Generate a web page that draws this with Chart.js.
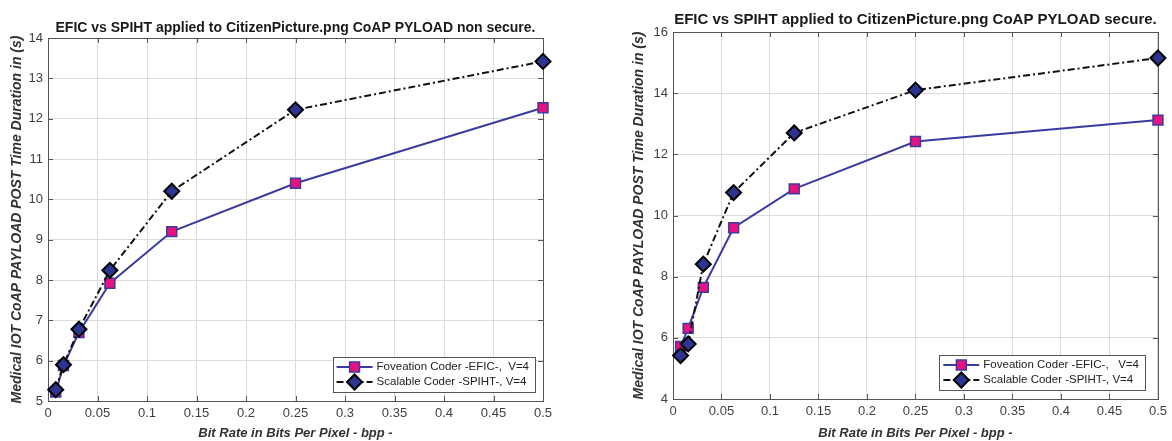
<!DOCTYPE html>
<html>
<head>
<meta charset="utf-8">
<script src="https://cdn.jsdelivr.net/npm/chart.js@4.4.1/dist/chart.umd.min.js"></script>
<style>
  html, body { margin: 0; padding: 0; background: #fff; }
  .wrap { position: relative; width: 1172px; height: 441px; }
  .left { position: absolute; left: 0; top: 0; width: 590px; height: 441px; }
  .right { position: absolute; left: 590px; top: 0; width: 582px; height: 441px; }
</style>
</head>
<body>
<div class="wrap">
  <div class="left"><canvas id="chartNonSecure"></canvas></div>
  <div class="right"><canvas id="chartSecure"></canvas></div>
</div>
<script>
// bit rates (bpp): 1/128 ... 1/2
var bitRates = [0.0078125, 0.015625, 0.03125, 0.0625, 0.125, 0.25, 0.5];

// POST time duration (s), non secure
var eficNonSecure = [5.22, 5.88, 6.7, 7.92, 9.2, 10.4, 12.27];
var spihtNonSecure = [5.28, 5.9, 6.78, 8.24, 10.2, 12.22, 13.42];

// POST time duration (s), secure
var eficSecure = [5.72, 6.31, 7.65, 9.6, 10.87, 12.42, 13.12];
var spihtSecure = [5.42, 5.8, 8.41, 10.75, 12.7, 14.1, 15.15];

var titleNonSecure = "EFIC vs SPIHT applied to CitizenPicture.png CoAP PYLOAD non secure.";
var titleSecure = "EFIC vs SPIHT applied to CitizenPicture.png CoAP PYLOAD secure.";
var xTitle = "Bit Rate in Bits Per Pixel - bpp -";
var yTitle = "Medical IOT CoAP PAYLOAD POST Time Duration in (s)";

var FONT = "'Liberation Sans', Arial, sans-serif";

function points(ys) {
  return bitRates.map(function(x, i) { return {x: x, y: ys[i]}; });
}

// box round the plot area + matlab style inner ticks
var boxPlugin = {
  id: 'box',
  beforeDatasetsDraw: function(chart) {
    var a = chart.chartArea, ctx = chart.ctx;
    ctx.save();
    ctx.strokeStyle = '#555';
    ctx.lineWidth = 1;
    chart.scales.x.ticks.forEach(function(t) {
      var px = Math.round(chart.scales.x.getPixelForValue(t.value)) + 0.5;
      ctx.beginPath();
      ctx.moveTo(px, a.bottom); ctx.lineTo(px, a.bottom - 5);
      ctx.moveTo(px, a.top); ctx.lineTo(px, a.top + 5);
      ctx.stroke();
    });
    chart.scales.y.ticks.forEach(function(t) {
      var py = Math.round(chart.scales.y.getPixelForValue(t.value)) + 0.5;
      ctx.beginPath();
      ctx.moveTo(a.left, py); ctx.lineTo(a.left + 5, py);
      ctx.moveTo(a.right, py); ctx.lineTo(a.right - 5, py);
      ctx.stroke();
    });
    ctx.strokeRect(Math.round(a.left) + 0.5, Math.round(a.top) + 0.5,
                   Math.round(a.right - a.left), Math.round(a.bottom - a.top));
    ctx.restore();
  }
};

// legend inside the plot, bottom right
var innerLegend = {
  id: 'innerLegend',
  afterDatasetsDraw: function(chart, args, opts) {
    var ctx = chart.ctx, a = chart.chartArea;
    var sets = chart.data.datasets;
    ctx.save();
    ctx.font = '11.5px ' + FONT;
    var textW = 0;
    sets.forEach(function(d) { textW = Math.max(textW, ctx.measureText(d.label).width); });
    var lineW = 36, rowH = 15;
    var w = 4 + lineW + 4 + textW + 6;
    var h = rowH * sets.length + 5;
    var x0 = a.right - opts.right - w;
    var y0 = a.bottom - opts.bottom - h;
    ctx.fillStyle = '#fff';
    ctx.fillRect(x0, y0, w, h);
    ctx.strokeStyle = '#555';
    ctx.lineWidth = 1;
    ctx.strokeRect(Math.round(x0) + 0.5, Math.round(y0) + 0.5, Math.round(w), Math.round(h));
    sets.forEach(function(d, i) {
      var cy = y0 + 2.5 + rowH * i + rowH / 2;
      var lx = x0 + 4;
      ctx.save();
      ctx.strokeStyle = d.borderColor;
      ctx.lineWidth = d.borderWidth;
      ctx.setLineDash(d.borderDash || []);
      ctx.beginPath();
      ctx.moveTo(lx, cy); ctx.lineTo(lx + lineW, cy);
      ctx.stroke();
      ctx.setLineDash([]);
      ctx.fillStyle = d.pointBackgroundColor;
      ctx.strokeStyle = d.pointBorderColor;
      ctx.lineWidth = d.pointBorderWidth;
      Chart.helpers.drawPoint(ctx, {pointStyle: d.pointStyle, radius: d.pointRadius, borderWidth: d.pointBorderWidth, rotation: 0}, lx + lineW / 2, cy);
      ctx.restore();
      ctx.fillStyle = '#222';
      ctx.textBaseline = 'middle';
      ctx.textAlign = 'left';
      ctx.fillText(d.label, lx + lineW + 4, cy);
    });
    ctx.restore();
  }
};

function makeChart(id, title, efic, spiht, cfg) {
  var ctx = document.getElementById(id).getContext('2d');
  return new Chart(ctx, {
    type: 'line',
    data: {
      datasets: [
        {
          label: cfg.eficLabel,
          data: points(efic),
          borderColor: '#3b3ba0',
          borderWidth: 2,
          pointStyle: 'rect',
          pointRadius: 7,
          pointBackgroundColor: '#e5127f',
          pointBorderColor: '#3b3ba0',
          pointBorderWidth: 1.5,
          tension: 0,
          clip: false,
          order: 1
        },
        {
          label: cfg.spihtLabel,
          data: points(spiht),
          borderColor: '#111',
          borderWidth: 2,
          borderDash: [7, 3, 2, 3],
          pointStyle: 'rectRot',
          pointRadius: 7.5,
          pointBackgroundColor: '#2e3590',
          pointBorderColor: '#000',
          pointBorderWidth: 2,
          tension: 0,
          clip: false,
          order: 0
        }
      ]
    },
    options: {
      responsive: true,
      maintainAspectRatio: false,
      animation: false,
      layout: { padding: { top: 0, right: cfg.padRight, bottom: 0, left: 0 } },
      plugins: {
        legend: { display: false },
        tooltip: { enabled: false },
        title: {
          display: true,
          text: title,
          fullSize: false,
          color: '#1a1a1a',
          font: { family: FONT, size: cfg.titleSize, weight: 'bold' },
          padding: cfg.titlePad
        },
        innerLegend: cfg.legendPos
      },
      scales: {
        x: {
          type: 'linear',
          min: 0,
          max: 0.5,
          ticks: {
            stepSize: 0.05,
            padding: 5,
            color: '#404040',
            font: { family: FONT, size: 13 },
            callback: function(v) { return String(+v.toFixed(2)); }
          },
          grid: { color: '#dedada', drawTicks: false },
          border: { display: false },
          title: {
            display: true,
            text: xTitle,
            color: '#333',
            font: { family: FONT, size: 13, weight: 'bold', style: 'italic' },
            padding: { top: 0, bottom: 0 }
          },
          afterFit: function(s) { s.height = cfg.xHeight; }
        },
        y: {
          min: cfg.yMin,
          max: cfg.yMax,
          ticks: {
            stepSize: cfg.yStep,
            padding: 5,
            color: '#404040',
            font: { family: FONT, size: 13 }
          },
          grid: { color: '#dedada', drawTicks: false },
          border: { display: false },
          title: {
            display: true,
            text: yTitle,
            color: '#333',
            font: { family: FONT, size: 14, weight: 'bold', style: 'italic' },
            padding: { top: cfg.yTitleTop, bottom: 0 }
          },
          afterFit: function(s) { s.width = cfg.yWidth; }
        }
      }
    },
    plugins: [boxPlugin, innerLegend]
  });
}

makeChart('chartNonSecure', titleNonSecure, eficNonSecure, spihtNonSecure, {
  eficLabel: "Foveation Coder -EFIC-,  V=4",
  spihtLabel: "Scalable Coder -SPIHT-, V=4",
  yMin: 5, yMax: 14, yStep: 1,
  yWidth: 48, yTitleTop: 8.6, xHeight: 40, padRight: 47,
  titleSize: 14,
  titlePad: { top: 19.6, bottom: 1.6 },
  legendPos: { right: 8, bottom: 9 }
});

makeChart('chartSecure', titleSecure, eficSecure, spihtSecure, {
  eficLabel: "Foveation Coder -EFIC-,   V=4",
  spihtLabel: "Scalable Coder -SPIHT-, V=4",
  yMin: 4, yMax: 16, yStep: 2,
  yWidth: 83, yTitleTop: 40.6, xHeight: 42, padRight: 11,
  titleSize: 15,
  titlePad: { top: 11, bottom: 3 },
  legendPos: { right: 13, bottom: 9 }
});
</script>
</body>
</html>
